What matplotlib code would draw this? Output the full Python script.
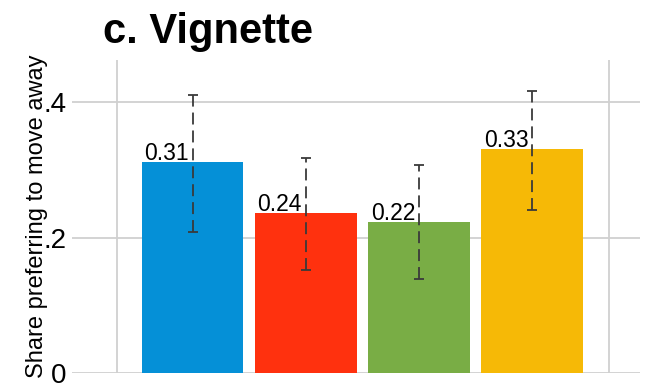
import matplotlib
matplotlib.use("Agg")
import matplotlib.pyplot as plt

plt.rcParams["font.family"] = ["Liberation Sans", "DejaVu Sans"]
plt.rcParams["lines.scale_dashes"] = False

# Vignette groups: share preferring to move away, with 95% CI bounds
groups = ["Group 1", "Group 2", "Group 3", "Group 4"]
share = [0.312, 0.236, 0.223, 0.331]
ci_low = [0.2085, 0.152, 0.139, 0.2406]
ci_high = [0.410, 0.3178, 0.307, 0.4167]
colors = ["#0590d7", "#ff310e", "#79ad45", "#f6b906"]
ytick_vals = [0, 0.2, 0.4]
ytick_labels = ["0", ".2", ".4"]

fig = plt.figure(figsize=(6.70, 3.83), dpi=100)
ax = fig.add_axes([72 / 670, 10 / 383, 568 / 670, 313 / 383])

x = list(range(1, len(groups) + 1))
ax.bar(x, share, width=0.9, color=colors, zorder=2)

err_lo = [s - lo for s, lo in zip(share, ci_low)]
err_hi = [hi - s for s, hi in zip(share, ci_high)]
eb = ax.errorbar(x, share, yerr=[err_lo, err_hi], fmt="none", ecolor="#3a3a3a",
                 elinewidth=1.3, capsize=3.3, capthick=1.3, zorder=3)
for coll in eb[2]:
    coll.set_linestyle((0, (8.6, 4.3)))

for xi, s in zip(x, share):
    ax.annotate(f"{s:.2f}", xy=(xi - 0.45, s), xytext=(2, 1.5),
                textcoords="offset points", ha="left", va="baseline",
                fontsize=16.5, color="black", zorder=4)

ax.set_xlim(-0.066, 4.956)
ax.set_ylim(0, 0.462)
ax.set_yticks(ytick_vals)
ax.set_yticklabels(ytick_labels)
ax.set_xticks([0.332, 4.681])
ax.set_xticklabels([])
ax.tick_params(axis="both", length=0)
ax.tick_params(axis="y", labelsize=20, pad=4)
ax.grid(True, color="#d0d0d0", linewidth=1.3, zorder=0)
ax.set_axisbelow(True)
for sp in ax.spines.values():
    sp.set_visible(False)

fig.text(37 / 670, 1 - 216.5 / 383, "Share preferring to move away",
         rotation=90, ha="center", va="center", fontsize=17)
fig.text(103 / 670, 1 - 43 / 383, "c. Vignette", ha="left", va="baseline",
         fontsize=30, fontweight="bold")

fig.savefig("out.png", dpi=100)
